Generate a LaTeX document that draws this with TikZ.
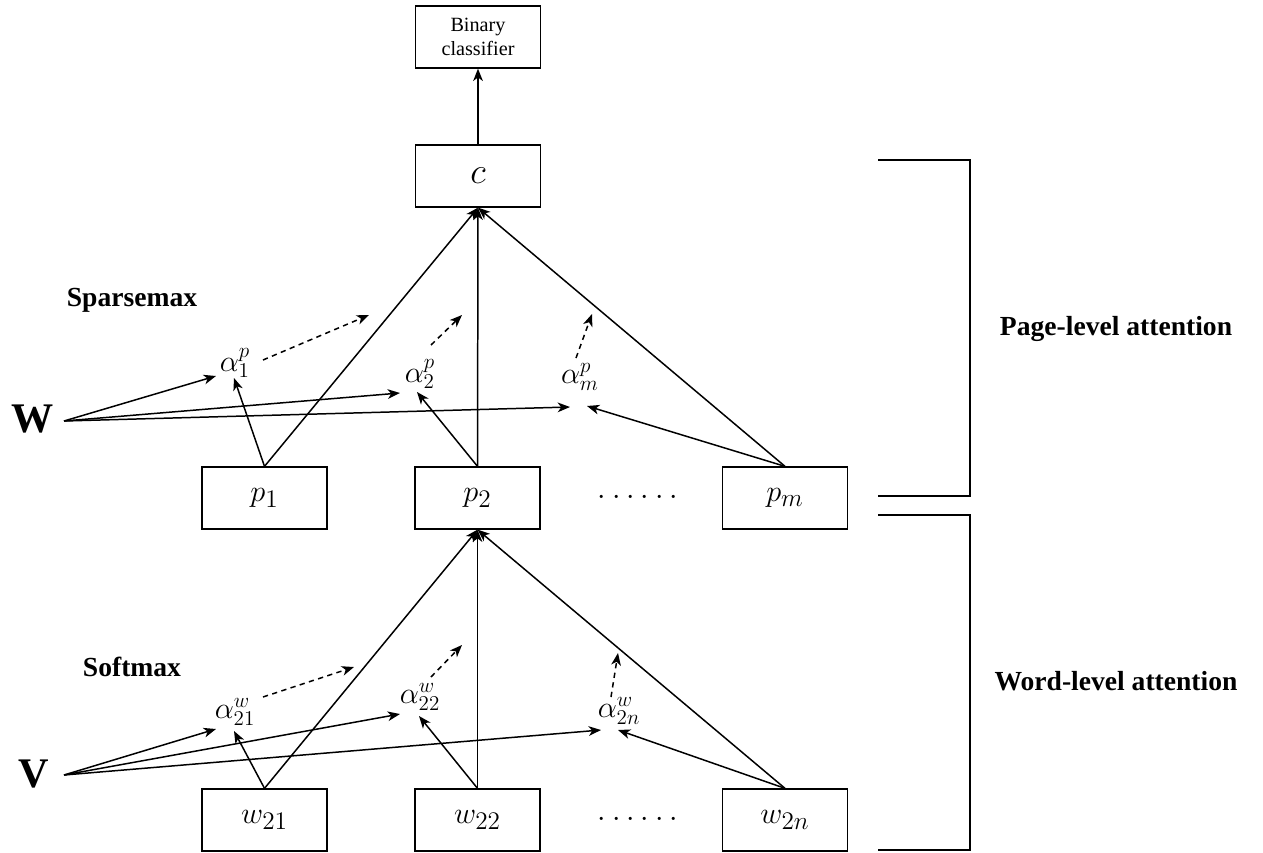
\documentclass[tikz,border=0pt]{standalone}
\usepackage{fontspec}
\setmainfont{Liberation Serif}
\usetikzlibrary{arrows.meta}
\newcommand{\dotrow}{$\cdot$\hspace{3.4pt}$\cdot$\hspace{3.4pt}$\cdot$\hspace{3.4pt}$\cdot$\hspace{3.4pt}$\cdot$\hspace{3.4pt}$\cdot$}
\begin{document}
\begin{tikzpicture}[x=0.02cm,y=-0.02cm,
  box/.style={draw, line width=0.75pt, minimum width=2.5cm, minimum height=1.24cm, inner sep=0pt},
  arr/.style={-{Stealth[length=7pt,width=5.5pt,inset=2pt]}, line width=0.85pt},
  darr/.style={arr, dash pattern=on 3pt off 2.5pt},
  lbl/.style={font=\bfseries\fontsize{15.7}{18}\selectfont, inner sep=0pt},
  bigl/.style={font=\bfseries\fontsize{24}{28}\selectfont, inner sep=0pt},
  mathlbl/.style={font=\fontsize{19}{22}\selectfont},
  alph/.style={font=\fontsize{16.6}{19}\selectfont, inner sep=0pt},
  brk/.style={line width=0.8pt}]
\useasboundingbox (0,0) rectangle (1263,852);

% boxes
\node[box, align=center, font=\fontsize{11.5}{14}\selectfont] (bc) at (478,37) {Binary\\classifier};
\node[box, mathlbl, font=\fontsize{20}{22}\selectfont] (c) at (478,176) {$c$};
\node[box, mathlbl] (p1) at (264.5,498) {$p_1$};
\node[box, mathlbl] (p2) at (477.5,498) {$p_2$};
\node[box, mathlbl] (pm) at (785,498) {$p_m$};
\node[mathlbl] (pdots) at (638,498) {\dotrow};
\node[box, mathlbl] (w21) at (264.5,820) {$w_{21}$};
\node[box, mathlbl] (w22) at (477.5,820) {$w_{22}$};
\node[box, mathlbl] (w2n) at (785,820) {$w_{2n}$};
\node[mathlbl] (wdots) at (638,820) {\dotrow};

% labels
\node[lbl] (sparse) at (132,300) {Sparsemax};
\node[lbl] (soft) at (132,667) {Softmax};
\node[lbl] (pla) at (1116,329) {Page-level attention};
\node[lbl] (wla) at (1116,681) {Word-level attention};
\node[bigl] (W) at (33,419) {W};
\node[bigl] (V) at (34,774) {V};

% alpha nodes
\node[alph] (a1p) at (235,363) {$\alpha_1^p$};
\node[alph] (a2p) at (420,374) {$\alpha_2^p$};
\node[alph] (amp) at (580,377) {$\alpha_m^p$};
\node[alph] (a21) at (235,712) {$\alpha_{21}^w$};
\node[alph] (a22) at (420,697) {$\alpha_{22}^w$};
\node[alph] (a2n) at (619,711) {$\alpha_{2n}^w$};

% coordinates
\coordinate (Ws) at (64,421);
\coordinate (W1) at (216,376);
\coordinate (W2) at (400,393);
\coordinate (W3) at (570,407);
\coordinate (P1) at (234,378);
\coordinate (P2) at (417,392);
\coordinate (P3) at (587,406);
\coordinate (D1s) at (263,360);
\coordinate (D1e) at (369,315);
\coordinate (D2s) at (431,345);
\coordinate (D2e) at (462,315);
\coordinate (D3s) at (576,358);
\coordinate (D3e) at (592,314);
\coordinate (Vs) at (64,775);
\coordinate (V1) at (216,729);
\coordinate (V2) at (400,714);
\coordinate (V3) at (601,730);
\coordinate (Q1) at (234,731);
\coordinate (Q2) at (419,716);
\coordinate (Q3) at (618,730);
\coordinate (E1s) at (263,697);
\coordinate (E1e) at (354,667);
\coordinate (E2s) at (431,677);
\coordinate (E2e) at (462,645);
\coordinate (E3s) at (611,697);
\coordinate (E3e) at (618,653);

% top
\draw[arr] (c.north) -- (bc.south);
\draw[arr] (p1.north) -- (c.south);
\draw[arr] (p2.north) -- (c.south);
\draw[arr] (pm.north) -- (c.south);
\draw[arr] (Ws) -- (W1);
\draw[arr] (Ws) -- (W2);
\draw[arr] (Ws) -- (W3);
\draw[arr] (p1.north) -- (P1);
\draw[arr] (p2.north) -- (P2);
\draw[arr] (pm.north) -- (P3);
\draw[darr] (D1s) -- (D1e);
\draw[darr] (D2s) -- (D2e);
\draw[darr] (D3s) -- (D3e);

% bottom
\draw[arr] (w21.north) -- (p2.south);
\draw[arr] (w22.north) -- (p2.south);
\draw[arr] (w2n.north) -- (p2.south);
\draw[arr] (Vs) -- (V1);
\draw[arr] (Vs) -- (V2);
\draw[arr] (Vs) -- (V3);
\draw[arr] (w21.north) -- (Q1);
\draw[arr] (w22.north) -- (Q2);
\draw[arr] (w2n.north) -- (Q3);
\draw[darr] (E1s) -- (E1e);
\draw[darr] (E2s) -- (E2e);
\draw[darr] (E3s) -- (E3e);

% brackets
\draw[brk] (878,160) -- (970,160) -- (970,496) -- (878,496);
\draw[brk] (878,515) -- (970,515) -- (970,850) -- (878,850);
\end{tikzpicture}
\end{document}
